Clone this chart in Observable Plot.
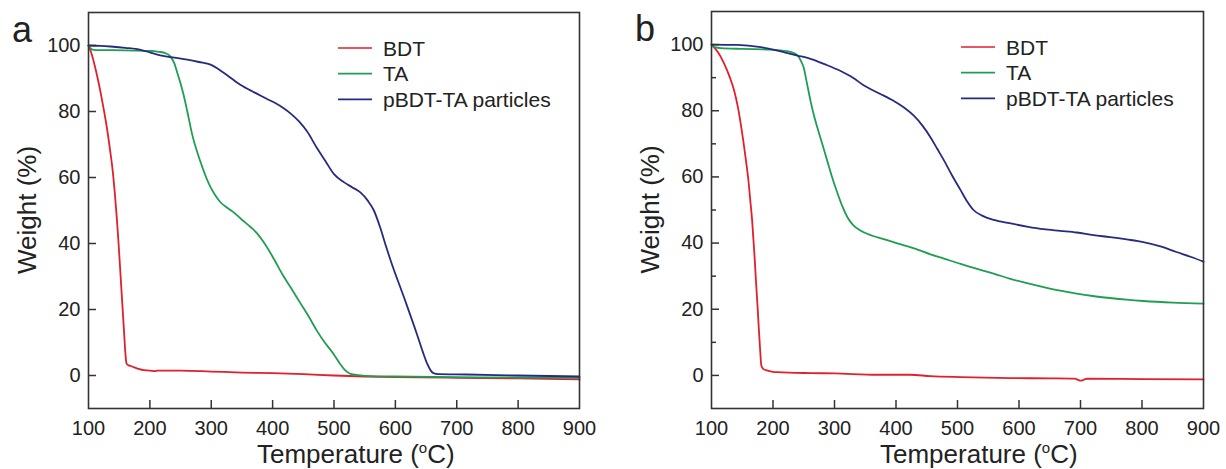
<!DOCTYPE html>
<html>
<head>
<meta charset="utf-8">
<script src="https://cdn.jsdelivr.net/npm/d3@7"></script>
<script src="https://cdn.jsdelivr.net/npm/@observablehq/plot@0.6"></script>
<style>
  body { margin: 0; background: #fff; }
  #wrap { display: flex; width: 1226px; height: 469px; }
  #wrap svg { display: block; }
</style>
</head>
<body>
<div id="wrap"></div>
<script>
// Thermogravimetric curves: weight (%) versus temperature (°C)
const seriesNames = ["BDT", "TA", "pBDT-TA particles"];
const seriesColors = ["#e11f2d", "#1f9e52", "#272b80"];

const xTicks = [100, 200, 300, 400, 500, 600, 700, 800, 900];
const xInnerTicks = [200, 300, 400, 500, 600, 700, 800];
const yTicks = [0, 20, 40, 60, 80, 100];
const yMinorTicks = [10, 30, 50, 70, 90];

// Panel a
const bdtA = [[100,100],[105,97.5],[110,94],[115,90],[120,85.5],[125,80.5],[130,75],[135,68.5],[140,61],[143,55],[146,48],[149,40],[152,31],[155,22],[158,13],[160,7],[162,3.6],[165,3.1],[170,2.8],[180,2.1],[190,1.6],[200,1.5],[208,1.3],[212,1.5],[250,1.5],[300,1.2],[350,0.9],[400,0.7],[450,0.4],[500,0],[550,-0.3],[600,-0.5],[700,-0.7],[800,-0.9],[900,-1.2]];
const taA = [[100,100],[103,99.2],[108,98.7],[130,98.6],[160,98.5],[200,98.4],[215,98.1],[225,97.7],[233,96.8],[240,94.5],[245,91.5],[250,88.5],[255,85],[261,80],[269,73],[282,65],[299,57],[307,54.5],[315,52.5],[325,51],[336,49.5],[350,47.2],[364,45],[375,43],[385,40.5],[400,36],[418,30],[430,26.5],[445,22],[460,17.5],[472,13.6],[485,10],[499,6.6],[510,3.5],[518,1.6],[527,0.5],[540,0.1],[560,-0.2],[600,-0.3],[700,-0.5],[800,-0.6],[900,-0.7]];
const pbdtA = [[100,100],[120,99.9],[136,99.7],[160,99.3],[185,98.7],[200,97.9],[217,97],[240,96.3],[261,95.7],[280,95],[299,94.2],[312,92.8],[326,91],[348,88],[370,85.8],[391,83.8],[405,82.5],[418,81],[430,79.3],[443,77],[456,74],[472,69],[486,65],[500,61],[516,58.6],[530,57],[543,55.5],[555,53],[565,50],[575,45],[585,39],[592,35],[614,23.7],[635,12.6],[645,7],[652,3.5],[658,1.4],[662,0.7],[670,0.4],[717,0.3],[800,0],[900,-0.3]];

// Panel b
const bdtB = [[100,100],[110,97.8],[120,94.5],[130,90],[137,86],[143,81],[148,75.5],[152,70.5],[156,65],[160,59],[163,53],[166,47],[168,41.5],[170,36],[172,29.5],[175,20.5],[177,14],[179,8],[181,3],[184,2],[190,1.5],[200,1.1],[207,1.0],[261,0.7],[300,0.6],[369,0.2],[423,0.2],[456,-0.2],[505,-0.5],[586,-0.8],[650,-0.9],[690,-1.0],[697,-1.4],[700,-1.6],[704,-1.4],[710,-1.0],[800,-1.1],[900,-1.2]];
const taB = [[100,100],[105,99.2],[115,98.9],[150,98.7],[196,98.5],[223,98],[233,97.5],[240,96.7],[245,95.2],[250,93],[255,88.5],[261,83],[266,79],[272,75],[280,70],[288,65],[296,60],[305,55],[313,51],[321,47.8],[330,45.5],[342,43.8],[360,42.3],[380,41.2],[413,39.3],[423,38.8],[456,36.6],[478,35.3],[505,33.7],[532,32.2],[560,30.7],[586,29.2],[613,27.9],[640,26.7],[667,25.6],[694,24.7],[720,24],[748,23.4],[775,22.9],[802,22.5],[850,22],[900,21.7]];
const pbdtB = [[100,100],[142,99.9],[180,99.2],[200,98.5],[218,97.7],[240,96.7],[261,95.7],[285,94],[310,92],[330,90],[348,87.6],[372,85.3],[396,83],[413,81],[429,78.5],[443,75.5],[456,72],[467,68.5],[478,65],[491,60.5],[505,56],[516,52.5],[526,50],[540,48.3],[559,47],[585,46],[613,45],[640,44.2],[667,43.7],[694,43.2],[721,42.4],[748,41.8],[775,41.1],[802,40.3],[830,39],[856,37.3],[880,35.8],[900,34.4]];

const FONT = '"Liberation Sans", Arial, Helvetica, sans-serif';
const INK = "#222";
const AXIS = "#333";

// Letter, axis titles and legend drawn in pixel space relative to the frame
function decorations(letter) {
  return (index, scales, values, dims) => {
    const g = d3.create("svg:g").attr("font-family", FONT).attr("fill", INK)
      .attr("text-anchor", "start");
    const left = dims.marginLeft, top = dims.marginTop;
    const bottom = dims.height - dims.marginBottom;
    const midY = (top + bottom) / 2;

    g.append("text").attr("x", left - 76).attr("y", top + 30)
      .attr("font-size", 36).text(letter);

    const xt = g.append("text").attr("x", left + 169).attr("y", bottom + 55)
      .attr("font-size", 26);
    xt.append("tspan").text("Temperature (");
    xt.append("tspan").attr("font-size", 15).attr("dy", -10).text("o");
    xt.append("tspan").attr("dy", 10).text("C)");

    g.append("text")
      .attr("transform", `translate(${left - 52},${midY}) rotate(-90)`)
      .attr("text-anchor", "middle").attr("font-size", 26).text("Weight (%)");

    seriesNames.forEach((name, i) => {
      const y = top + 36 + i * 25.7;
      g.append("line").attr("x1", left + 250).attr("x2", left + 284)
        .attr("y1", y).attr("y2", y)
        .attr("stroke", seriesColors[i]).attr("stroke-width", 1.7);
      g.append("text").attr("x", left + 295).attr("y", y).attr("dy", "0.36em")
        .attr("font-size", 21).text(name);
    });
    return g.node();
  };
}

function panel({letter, series, marginLeft, marginRight, marginTop, minor}) {
  const marks = [];
  series.forEach((d, i) => {
    marks.push(Plot.line(d, {x: "0", y: "1", stroke: seriesColors[i], strokeWidth: 1.8, curve: "monotone-x"}));
  });
  marks.push(
    // inward tick marks (labels suppressed with fill none)
    Plot.axisX(xInnerTicks, {tickSize: 8, dy: -8, stroke: AXIS, strokeWidth: 1.5, fill: "none", label: null}),
    Plot.axisX(xTicks, {tickSize: 0, tickPadding: 12, fontSize: 20, fill: INK, label: null}),
    Plot.axisY(yTicks, {tickSize: 8, dx: 8, stroke: AXIS, strokeWidth: 1.5, fill: "none", label: null}),
    Plot.axisY(yTicks, {tickSize: 0, tickPadding: 8, fontSize: 20, fill: INK, label: null})
  );
  if (minor) marks.push(Plot.axisY(yMinorTicks, {tickSize: 5, dx: 5, stroke: AXIS, strokeWidth: 1.5, fill: "none", label: null}));
  marks.push(Plot.frame({stroke: AXIS, strokeWidth: 1.6}));
  marks.push(decorations(letter));
  return Plot.plot({
    width: 613,
    height: 469,
    marginLeft, marginRight, marginTop, marginBottom: 61,
    style: {fontFamily: FONT, background: "#fff", overflow: "visible"},
    x: {domain: [100, 900], label: null},
    y: {domain: [-10, 110], label: null},
    marks
  });
}

const wrap = document.getElementById("wrap");
wrap.append(panel({letter: "a", series: [bdtA, taA, pbdtA], marginLeft: 88, marginRight: 34, marginTop: 12, minor: false}));
wrap.append(panel({letter: "b", series: [bdtB, taB, pbdtB], marginLeft: 98, marginRight: 23, marginTop: 11, minor: true}));
</script>
</body>
</html>
